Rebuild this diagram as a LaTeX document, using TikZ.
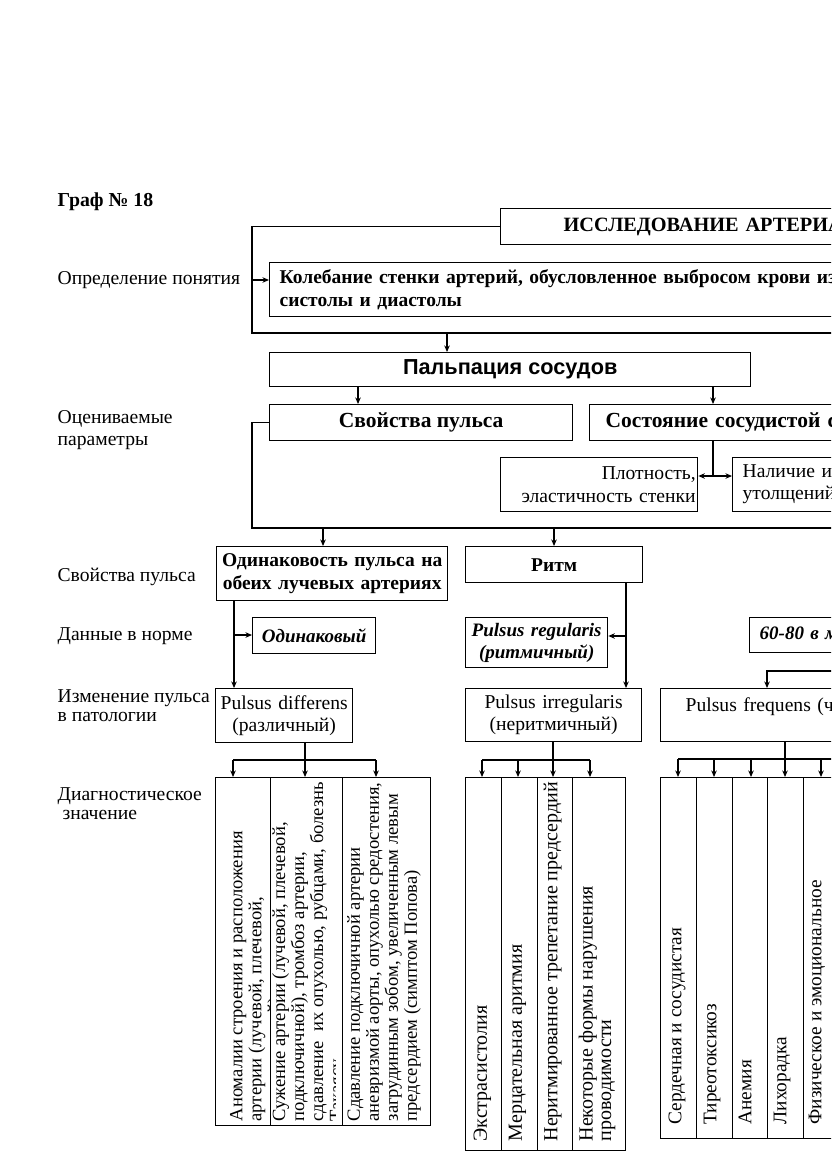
\documentclass[tikz,border=0pt]{standalone}
\usepackage{fontspec}
\setmainfont{Liberation Serif}
\newfontfamily\sansfam{Liberation Sans}
\usetikzlibrary{arrows.meta}
\newcommand\fN{\fontsize{19.6}{22}\selectfont}
\newcommand\fNs{\fontsize{19.6}{19}\selectfont}
\newcommand\fB{\fontsize{19.5}{23}\selectfont\bfseries}
\newcommand\fBL{\fontsize{21.5}{24}\selectfont\bfseries}
\newcommand\fBT{\fontsize{20.3}{24}\selectfont\bfseries}
\newcommand\fBI{\fontsize{19}{22}\selectfont\bfseries\itshape}
\newcommand\fTa{\fontsize{18.6}{19}\selectfont}
\newcommand\fTb{\fontsize{20}{18.5}\selectfont}
\newcommand\fTc{\fontsize{19.3}{19}\selectfont}
\newcommand\fP{\fontsize{21.7}{24}\selectfont\sansfam\bfseries}
\begin{document}
\begin{tikzpicture}[x=1pt,y=-1pt,line width=1.35pt,
  tip/.style={-{Stealth[length=6.5pt,width=5.5pt]}},
  dtip/.style={{Stealth[length=6.5pt,width=5.5pt]}-{Stealth[length=6.5pt,width=5.5pt]}},
  bx/.style={draw,fill=white,inner sep=0pt,anchor=north west},
  wh/.style 2 args={minimum width=#1pt,minimum height=#2pt},
  lab/.style={inner sep=0pt,anchor=west,align=left,font=\fN},
  vt/.style={rotate=90,anchor=north west,inner sep=0pt,align=left},
]
\useasboundingbox (0,0) rectangle (831,1174);
\clip (0,0) rectangle (831,1174);
\fill[white] (0,0) rectangle (831,1174);

% left labels
\node[lab,font=\fontsize{19.8}{23}\selectfont\bfseries] (l0) at (57,202) {Граф № 18};
\node[lab] (l1) at (57,280) {Определение понятия};
\node[lab] (l2) at (57,430) {Оцениваемые\\параметры};
\node[lab] (l3) at (57,577) {Свойства пульса};
\node[lab] (l4) at (57,636) {Данные в норме};
\node[lab,font=\fNs] (l5) at (57,706) {Изменение пульса\\в патологии};
\node[lab,font=\fNs] (l6) at (57,804) {Диагностическое\\\ значение};

% boxes
\node[bx,wh={600}{36},font=\fBT,align=left,text width=520pt,inner xsep=63pt] (title) at (500,208) {ИССЛЕДОВАНИЕ АРТЕРИАЛЬНОГО ПУЛЬСА};
\node[bx,wh={800}{54},font=\fB,align=left,text width=780pt,inner xsep=9pt] (defn) at (269,262) {Колебание стенки артерий, обусловленное выбросом крови из сердца\\систолы и диастолы};
\node[bx,wh={481}{34},font=\fP] (palp) at (269,352) {Пальпация сосудов};
\node[bx,wh={303}{36},font=\fBL] (svp) at (269,404) {Свойства пульса};
\node[bx,wh={500}{36},font=\fBL,align=left,text width=470pt,inner xsep=16pt] (sost) at (589,404) {Состояние сосудистой стенки};
\node[bx,wh={197}{54},font=\fN,align=right,text width=193pt,inner xsep=2pt] (plot) at (500,457) {Плотность,\\эластичность стенки};
\node[bx,wh={300}{54},font=\fN,align=left,text width=280pt,inner xsep=5pt] (nal) at (732,457) {Наличие извитости,\\утолщений};
\node[bx,wh={231}{54},font=\fB,align=center,text width=229pt] (odn) at (216,546) {Одинаковость пульса на\\обеих лучевых артериях};
\node[bx,wh={177}{36},font=\fB] (ritm) at (465,546) {Ритм};
\node[bx,wh={123}{36},font=\fBI] (odk) at (252,617) {Одинаковый};
\node[bx,wh={142}{50},font=\fBI,align=center,text width=140pt] (preg) at (465,617) {Pulsus regularis\\(ритмичный)};
\node[bx,wh={300}{35},font=\fBI,align=left,text width=280pt,inner xsep=5pt] (n60) at (749,617) {60-80 в минуту};
\node[bx,wh={137}{54},font=\fN,align=center,text width=137pt] (pdiff) at (215,688) {Pulsus differens\\(различный)};
\node[bx,wh={176}{53},font=\fN,align=center,text width=174pt] (pirr) at (465,688) {Pulsus irregularis\\(неритмичный)};
\node[bx,wh={400}{53},font=\fN,align=left,text width=360pt,inner xsep=25pt] (pfreq) at (660,688) {Pulsus frequens (частый)\\\mbox{}};

% table columns
\node[bx,wh={55}{348}] (t1a) at (215,777) {};
\node[bx,wh={72}{348}] (t1b) at (270,777) {};
\node[bx,wh={88}{348}] (t1c) at (342,777) {};
\node[bx,wh={36}{373}] (t2a) at (465,777) {};
\node[bx,wh={36}{373}] (t2b) at (501,777) {};
\node[bx,wh={35}{373}] (t2c) at (537,777) {};
\node[bx,wh={53}{373}] (t2d) at (572,777) {};
\node[bx,wh={36}{361}] (t3a) at (660,777) {};
\node[bx,wh={36}{361}] (t3b) at (696,777) {};
\node[bx,wh={35}{361}] (t3c) at (732,777) {};
\node[bx,wh={36}{361}] (t3d) at (767,777) {};
\node[bx,wh={100}{361}] (t3e) at (803,777) {};

% rotated texts
\begin{scope}
\clip (215,777) rectangle (269,1125);
\node[vt,font=\fTa] (x1a) at (229.5,1122) {Аномалии строения и расположения\\артерии (лучевой, плечевой,\\подключичной)};
\end{scope}
\begin{scope}
\clip (270,777) rectangle (335,1125);
\node[vt,font=\fTa] (x1b) at (271.5,1122) {Сужение артерии (лучевой, плечевой,\\подключичной), тромбоз артерии,\\сдавление\ \ их опухолью, рубцами, болезнь\\Такаясу};
\end{scope}
\node[vt,font=\fTa] (x1c) at (346.5,1122) {Сдавление подключичной артерии\\аневризмой аорты, опухолью средостения,\\загрудинным зобом, увеличенным левым\\предсердием (симптом Попова)};
\node[vt,font=\fTb] (x2a) at (473,1142) {Экстрасистолия};
\node[vt,font=\fTb] (x2b) at (508,1142) {Мерцательная аритмия};
\node[vt,font=\fTb] (x2c) at (543,1142) {Неритмированное трепетание предсердий};
\node[vt,font=\fTb] (x2d) at (578,1142) {Некоторые формы нарушения\\проводимости};
\node[vt,font=\fTc] (x3a) at (668,1125) {Сердечная и сосудистая};
\node[vt,font=\fTc] (x3b) at (703,1125) {Тиреотоксикоз};
\node[vt,font=\fTc] (x3c) at (738,1125) {Анемия};
\node[vt,font=\fTc] (x3d) at (773,1125) {Лихорадка};
\node[vt,font=\fTc] (x3e) at (808,1125) {Физическое и эмоциональное};

% connectors
\coordinate (fBL) at (252,333); \coordinate (fR) at (900,333);
\draw (title.west) -| (fBL) -- (fR);
\coordinate (fA) at (252,280);
\draw[tip] (fA) -- (fA -| defn.west);
\coordinate (fB) at (447,333);
\draw[tip] (fB) -- (fB |- palp.north);
\coordinate (pa) at (358,0); \draw[tip] (pa |- palp.south) -- (pa |- svp.north);
\coordinate (pb) at (713,0); \draw[tip] (pb |- palp.south) -- (pb |- sost.north);
\coordinate (sj) at (713,476); \draw (sj |- sost.south) -- (sj);
\draw[dtip] (sj -| plot.east) -- (sj -| nal.west);
\coordinate (sBL) at (252,528); \coordinate (sR) at (900,528);
\draw (svp.west) -| (sBL) -- (sR);
\coordinate (ra) at (323,528); \draw[tip] (ra) -- (ra |- odn.north);
\coordinate (rb) at (554,528); \draw[tip] (rb) -- (rb |- ritm.north);
\coordinate (oa) at (234,0); \draw[tip] (oa |- odn.south) -- (oa |- pdiff.north);
\coordinate (ob) at (234,635); \draw[tip] (ob) -- (ob -| odk.west);
\coordinate (qa) at (626,0); \draw[tip] (qa |- ritm.south) -- (qa |- pirr.north);
\coordinate (qb) at (626,636); \draw[tip] (qb) -- (qb -| preg.east);
\coordinate (na) at (900,671); \coordinate (nb) at (767,671);
\draw[tip] (na) -- (nb) -- (nb |- pfreq.north);

\coordinate (d0) at (305,760); \coordinate (d1) at (233,760); \coordinate (d3) at (376,760);
\draw (d0 |- pdiff.south) -- (d0);
\draw (d1) -- (d3);
\draw[tip] (d1) -- (d1 |- t1a.north);
\draw[tip] (d0) -- (d0 |- t1b.north);
\draw[tip] (d3) -- (d3 |- t1c.north);

\coordinate (e0) at (553,760); \coordinate (e1) at (482,760); \coordinate (e2) at (518,760); \coordinate (e4) at (590,760);
\draw (e0 |- pirr.south) -- (e0);
\draw (e1) -- (e4);
\draw[tip] (e1) -- (e1 |- t2a.north);
\draw[tip] (e2) -- (e2 |- t2b.north);
\draw[tip] (e0) -- (e0 |- t2c.north);
\draw[tip] (e4) -- (e4 |- t2d.north);

\coordinate (g0) at (785,759); \coordinate (g1) at (678,759); \coordinate (g2) at (714,759); \coordinate (g3) at (751,759); \coordinate (g5) at (821,759); \coordinate (gR) at (900,759);
\draw (g0 |- pfreq.south) -- (g0);
\draw (g1) -- (gR);
\draw[tip] (g1) -- (g1 |- t3a.north);
\draw[tip] (g2) -- (g2 |- t3b.north);
\draw[tip] (g3) -- (g3 |- t3c.north);
\draw[tip] (g0) -- (g0 |- t3d.north);
\draw[tip] (g5) -- (g5 |- t3e.north);
\end{tikzpicture}
\end{document}
